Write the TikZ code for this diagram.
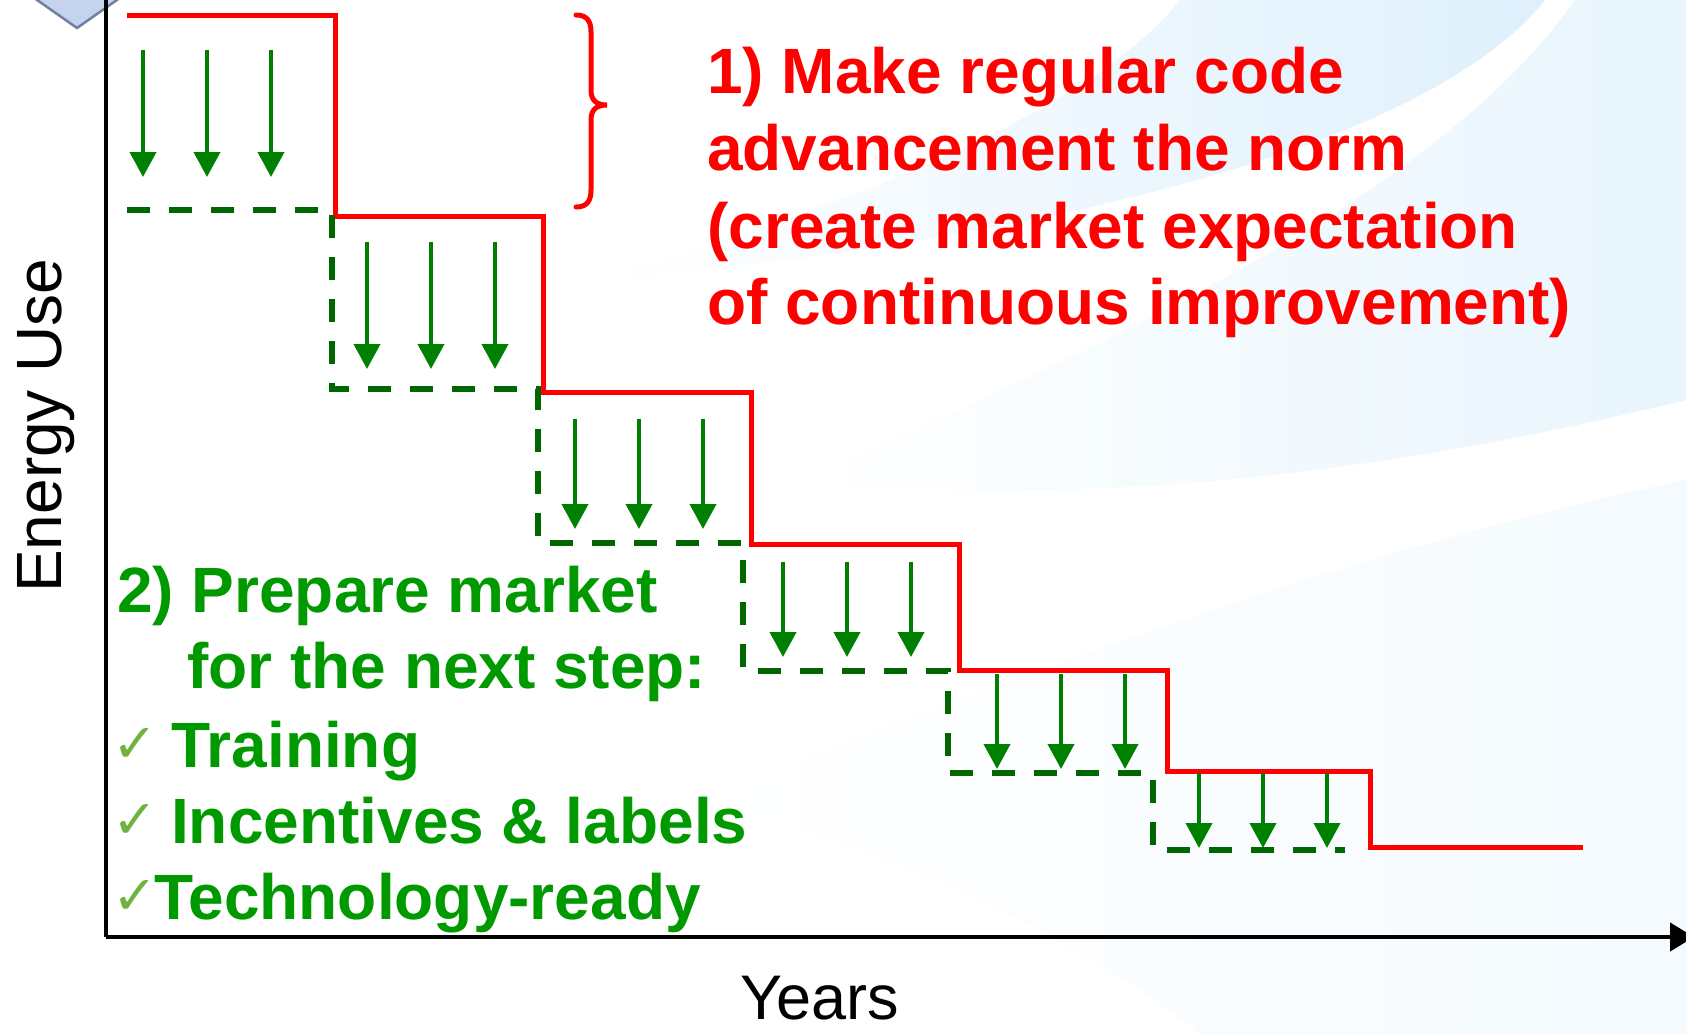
\documentclass[tikz,border=0pt]{standalone}
\usepackage{fontspec}
\setmainfont{Liberation Sans}
\newfontfamily\checkfont{DejaVu Sans}
\usetikzlibrary{arrows.meta}
\definecolor{codered}{RGB}{255,0,0}
\definecolor{txtgreen}{RGB}{0,153,0}
\definecolor{arrgreen}{RGB}{0,128,0}
\definecolor{dashgreen}{RGB}{0,102,0}
\definecolor{checkgreen}{RGB}{112,178,64}
\definecolor{swoosh}{RGB}{222,240,252}
\definecolor{swooshmid}{RGB}{232,245,253}
\definecolor{swooshpale}{RGB}{244,250,254}
\definecolor{diamondfill}{RGB}{197,211,238}
\definecolor{diamonddraw}{RGB}{110,130,160}
\begin{document}
\begin{tikzpicture}[x=1pt,y=-1pt,
  redstep/.style={draw=codered,line width=5pt},
  greenstep/.style={draw=dashgreen,line width=6pt,dash pattern=on 23pt off 19pt},
  downarrow/.style={draw=arrgreen,line width=4pt,-{Triangle[width=26pt,length=25pt]}},
  redtext/.style={text=codered,font=\fontsize{64}{77}\selectfont\bfseries,anchor=base west,inner sep=0pt},
  greentext/.style={text=txtgreen,font=\fontsize{64}{76}\selectfont\bfseries,anchor=base west,inner sep=0pt},
  checkmark/.style={text=checkgreen,font=\checkfont\fontsize{54}{60}\selectfont,anchor=base west,inner sep=0pt},
  axislabel/.style={text=black,font=\fontsize{64}{77}\selectfont,inner sep=0pt},
  axisline/.style={draw=black,line width=4.5pt}
]
\useasboundingbox (0,0) rectangle (1686,1034);
\fill[white] (0,0) rectangle (1686,1034);
% background swooshes
\shade[left color=white,right color=swooshpale] (700,800) .. controls (1100,640) and (1400,540) .. (1686,480) -- (1686,1034) -- (1200,1034) .. controls (1100,950) and (900,850) .. (700,800) -- cycle;
\shade[left color=white,right color=swooshmid] (800,480) .. controls (1150,330) and (1450,180) .. (1575,0) -- (1686,0) -- (1686,400) .. controls (1400,470) and (1100,510) .. (800,480) -- cycle;
\shade[left color=white,right color=swoosh] (600,280) .. controls (900,190) and (1100,100) .. (1180,0) -- (1545,0) .. controls (1450,120) and (1150,230) .. (600,280) -- cycle;
% corner diamond
\filldraw[fill=diamondfill,draw=diamonddraw,line width=2.5pt] (20,-12) -- (77,28) -- (134,-12) -- (77,-52) -- cycle;
% axes
\coordinate (ytop) at (106,-5);
\coordinate (orig) at (106,937);
\coordinate (xend) at (1694,937);
\draw[axisline] (ytop) -- (orig);
\draw[axisline,-{Triangle[width=28pt,length=24pt]}] (orig) -- (xend);
% steps
\draw[redstep] (127,15) -| (335,216) -| (543,392) -| (751,544) -| (959,670) -| (1167,771) -| (1370,847) -- (1583,847);
\draw[greenstep] (127,210) -| (332,389) -| (538,543) -| (743,671) -| (948,773) -| (1153,850) -- (1345,850);
% arrows
\foreach \x/\ya/\yb in {143/50/177,207/50/177,271/50/177,
  367/242/369,431/242/369,495/242/369,
  575/419/529,639/419/529,703/419/529,
  783/562/657,847/562/657,911/562/657,
  997/674/769,1061/674/769,1125/674/769,
  1199/773/848,1263/773/848,1327/773/848}
  \draw[downarrow] (\x,\ya) -- (\x,\yb);
% brace
\draw[codered,line width=5pt,line cap=round] (576,15) .. controls (586,15) and (591,20) .. (591,32) -- (591,90) .. controls (591,100) and (596,105) .. (607,105) .. controls (596,105) and (591,110) .. (591,120) -- (591,190) .. controls (591,202) and (586,207) .. (576,207);
% texts
\node[redtext] (r1) at (707,93) {1) Make regular code};
\node[redtext] (r2) at (707,170) {advancement the norm};
\node[redtext] (r3) at (707,248) {(create market expectation};
\node[redtext] (r4) at (707,324) {of continuous improvement)};
\node[greentext] (g1) at (117,612) {2) Prepare market};
\node[greentext] (g2) at (187,688) {for the next step:};
\node[greentext] (g3) at (171,767) {Training};
\node[greentext] (g4) at (171,843) {Incentives \& labels};
\node[greentext] (g5) at (154,919) {Technology-ready};
\node[checkmark] (c1) at (112,762) {✓};
\node[checkmark] (c2) at (112,838) {✓};
\node[checkmark] (c3) at (112,914) {✓};
\node[axislabel,rotate=90,anchor=base west] (ylab) at (61,593) {Energy Use};
\node[axislabel,anchor=base west,font=\fontsize{63}{75}\selectfont] (xlab) at (740,1019) {Years};
\end{tikzpicture}
\end{document}
